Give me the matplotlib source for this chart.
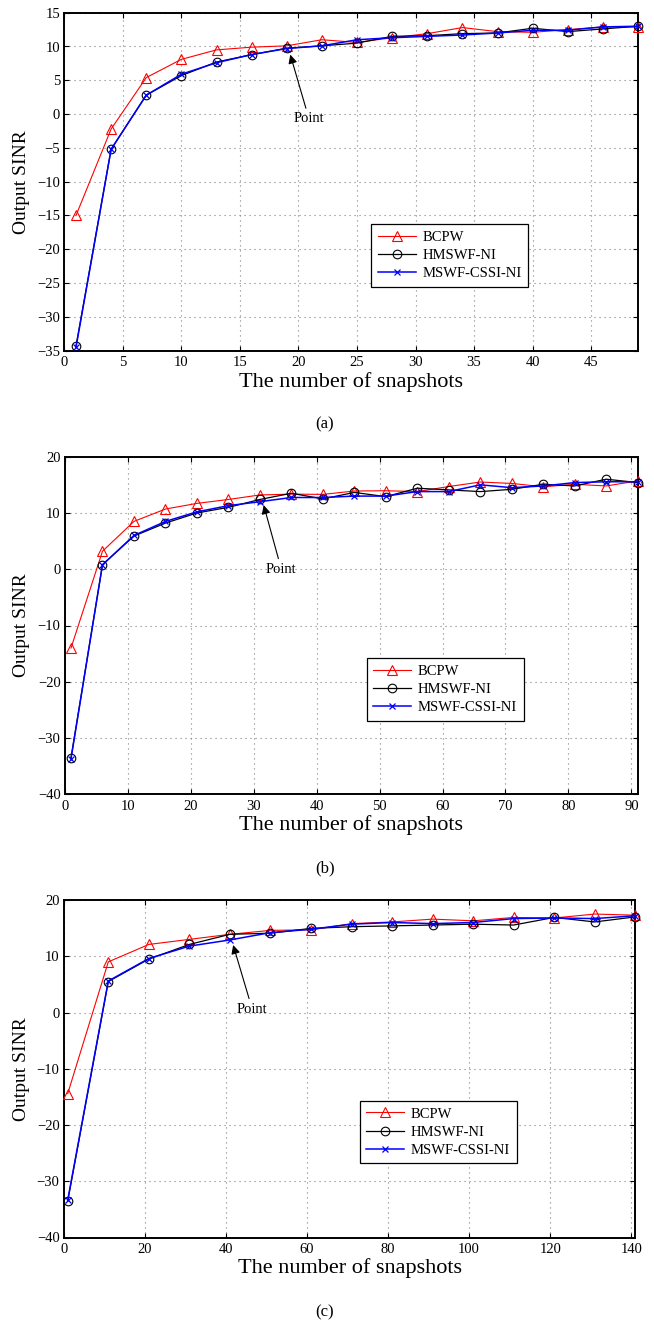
import matplotlib
matplotlib.use("Agg")
import matplotlib.pyplot as plt

plt.rcParams['font.family'] = ['Liberation Serif', 'DejaVu Serif']
plt.rcParams['mathtext.fontset'] = 'stix'

# ---------------- data ----------------
labels = ["BCPW", "HMSWF-NI", "MSWF-CSSI-NI"]

x_a = [1, 4, 7, 10, 13, 16, 19, 22, 25, 28, 31, 34, 37, 40, 43, 46, 49]
bcpw_a = [-15.0, -2.2, 5.4, 8.1, 9.5, 9.9, 10.1, 11.0, 10.6, 11.3, 11.9, 12.8, 12.2, 12.1, 12.5, 12.9, 12.9]
hmswf_a = [-34.3, -5.2, 2.8, 5.7, 7.7, 8.8, 9.75, 10.1, 10.5, 11.5, 11.6, 11.9, 12.0, 12.7, 12.2, 12.6, 13.0]
mswf_a = [-34.5, -5.2, 2.8, 5.9, 7.6, 8.8, 9.7, 10.1, 11.0, 11.3, 11.5, 11.7, 12.0, 12.4, 12.4, 12.9, 13.0]

x_b = [1, 6, 11, 16, 21, 26, 31, 36, 41, 46, 51, 56, 61, 66, 71, 76, 81, 86, 91]
bcpw_b = [-14.0, 3.2, 8.5, 10.7, 11.7, 12.4, 13.2, 13.35, 13.3, 13.9, 13.95, 13.8, 14.7, 15.5, 15.25, 14.65, 15.1, 14.8, 15.7]
hmswf_b = [-33.5, 0.8, 5.9, 8.2, 10.0, 11.0, 12.4, 13.5, 12.5, 13.65, 12.9, 14.4, 14.1, 13.8, 14.2, 15.1, 14.8, 16.0, 15.4]
mswf_b = [-33.7, 0.8, 6.0, 8.5, 10.2, 11.3, 12.0, 12.75, 12.75, 13.0, 13.0, 13.8, 13.8, 15.0, 14.5, 14.8, 15.4, 15.55, 15.55]

x_c = [1, 11, 21, 31, 41, 51, 61, 71, 81, 91, 101, 111, 121, 131, 141]
bcpw_c = [-14.4, 9.0, 12.1, 13.0, 13.9, 14.6, 14.7, 15.8, 16.1, 16.6, 16.3, 16.9, 16.8, 17.5, 17.3]
hmswf_c = [-33.5, 5.5, 9.5, 12.1, 13.9, 14.1, 14.95, 15.25, 15.4, 15.55, 15.7, 15.55, 16.9, 16.1, 17.0]
mswf_c = [-33.3, 5.6, 9.6, 11.8, 12.9, 14.2, 14.8, 15.7, 16.0, 15.8, 16.0, 16.7, 16.8, 16.7, 17.2]

xticks_a = [0, 5, 10, 15, 20, 25, 30, 35, 40, 45]
yticks_a = [-35, -30, -25, -20, -15, -10, -5, 0, 5, 10, 15]
xticks_b = [0, 10, 20, 30, 40, 50, 60, 70, 80, 90]
yticks_b = [-40, -30, -20, -10, 0, 10, 20]
xticks_c = [0, 20, 40, 60, 80, 100, 120, 140]
yticks_c = [-40, -30, -20, -10, 0, 10, 20]

panel_tags = ["(a)", "(b)", "(c)"]
xlabel = "The number of snapshots"
ylabel = "Output SINR"
note = "Point"

# ---------------- layout ----------------
W, H = 654, 1322
fig = plt.figure(figsize=(W / 100, H / 100), dpi=100)

panels = [
    dict(rect=(64.3, 12.7, 638.0, 350.7), x=x_a, ys=(bcpw_a, hmswf_a, mswf_a),
         xlim=(0, 49), ylim=(-35, 15), xt=xticks_a, yt=yticks_a,
         leg=(0.535, 0.375), ann=dict(tip=(19.3, 8.8), txt=(20.9, -0.7)),
         xl_y=381.7, tag_y=424),
    dict(rect=(64.7, 456.7, 637.7, 794.3), x=x_b, ys=(bcpw_b, hmswf_b, mswf_b),
         xlim=(0, 91), ylim=(-40, 20), xt=xticks_b, yt=yticks_b,
         leg=(0.527, 0.403), ann=dict(tip=(31.6, 11.4), txt=(34.4, 0.0)),
         xl_y=825, tag_y=868),
    dict(rect=(63.7, 900.0, 635.3, 1237.5), x=x_c, ys=(bcpw_c, hmswf_c, mswf_c),
         xlim=(0, 141), ylim=(-40, 20), xt=xticks_c, yt=yticks_c,
         leg=(0.518, 0.405), ann=dict(tip=(41.8, 12.0), txt=(46.5, 0.6)),
         xl_y=1268, tag_y=1312),
]

styles = [
    dict(color='red', marker='^', ms=7.5, lw=0.8, mfc='none', mew=0.8),
    dict(color='black', marker='o', ms=6.2, lw=0.9, mfc='none', mew=0.8),
    dict(color='blue', marker='x', ms=4.5, lw=1.1, mfc='none', mew=0.9),
]

for i, p in enumerate(panels):
    l, t, r, b = p['rect']
    ax = fig.add_axes([l / W, 1 - b / H, (r - l) / W, (b - t) / H])
    for ys, st, lab in zip(p['ys'], styles, labels):
        ax.plot(p['x'], ys, label=lab, color=st['color'], marker=st['marker'],
                markersize=st['ms'], linewidth=st['lw'], markerfacecolor=st['mfc'],
                markeredgewidth=st['mew'], clip_on=False, zorder=3)
    ax.set_xlim(*p['xlim'])
    ax.set_ylim(*p['ylim'])
    ax.set_xticks(p['xt'])
    ax.set_yticks(p['yt'])
    ax.grid(True, color='#808080', linestyle=(0, (1, 3.5)), linewidth=0.8)
    ax.tick_params(direction='in', top=True, right=True, length=3.5, width=0.8,
                   labelsize=10.5)
    ax.tick_params(axis='x', pad=4)
    ax.tick_params(axis='y', pad=3)
    for s in ax.spines.values():
        s.set_linewidth(1.4)
    leg = ax.legend(loc='upper left', bbox_to_anchor=p['leg'], fontsize=10.5,
                    frameon=True, fancybox=False, framealpha=1, edgecolor='black',
                    handlelength=2.6, handletextpad=0.45, labelspacing=0.34,
                    borderpad=0.45, borderaxespad=0)
    leg.get_frame().set_linewidth(0.9)
    a = p['ann']
    ax.annotate(note, xy=a['tip'], xytext=a['txt'], ha='center', va='center',
                fontsize=10.5, zorder=5,
                arrowprops=dict(arrowstyle='-|>', color='black', lw=0.8,
                                mutation_scale=13, shrinkA=1, shrinkB=0))
    cx = (l + r) / 2
    fig.text(cx / W, 1 - p['xl_y'] / H, xlabel, ha='center', va='center', fontsize=16)
    fig.text(22 / W, 1 - ((t + b) / 2) / H, ylabel, ha='center', va='center',
             rotation=90, fontsize=14)
    fig.text(325 / W, 1 - p['tag_y'] / H, panel_tags[i], ha='center', va='center',
             fontsize=12)

fig.savefig("out.png", dpi=100)
